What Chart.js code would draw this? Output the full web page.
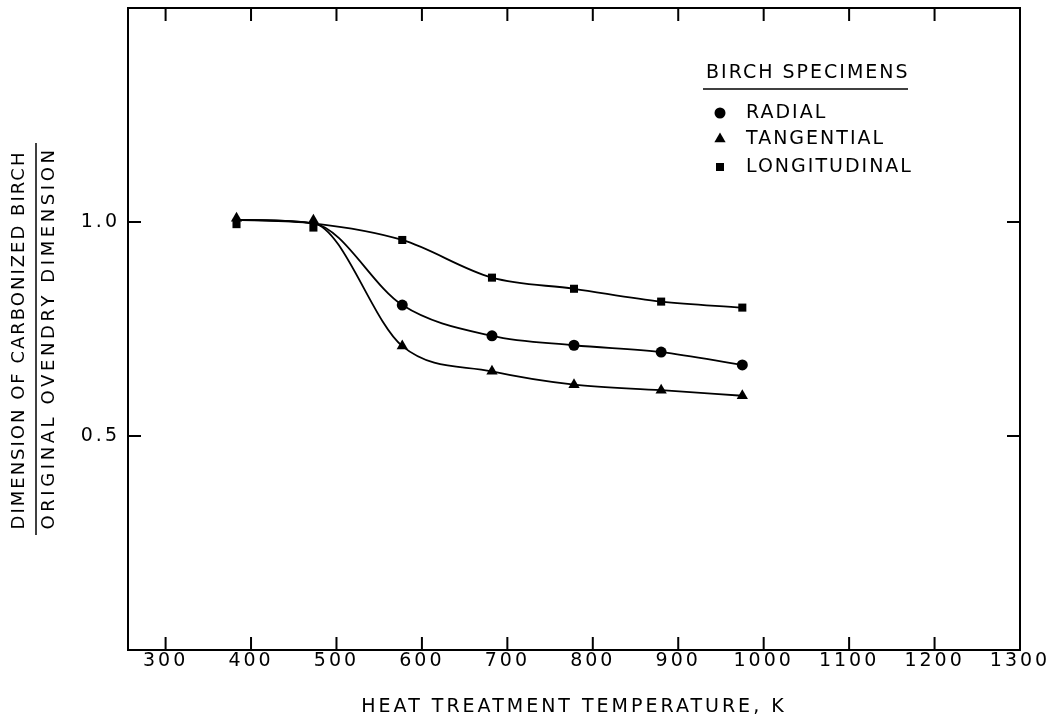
<!DOCTYPE html>
<html>
<head>
<meta charset="utf-8">
<script src="https://cdn.jsdelivr.net/npm/chart.js@4.4.1/dist/chart.umd.min.js"></script>
<style>
  html, body { margin: 0; padding: 0; background: #fff; }
</style>
</head>
<body>
<canvas id="chart" width="1051" height="720"></canvas>
<script>
// Heat treatment temperatures (K)
const temps = [383, 473, 577, 682, 778, 880, 975];

// Carbonized / ovendry dimension for each specimen direction
const radial = [null, null, 0.806, 0.734, 0.712, 0.696, 0.666];
const tangential = [1.009, 1.004, 0.710, 0.651, 0.620, 0.607, 0.594];
const longitudinal = [0.995, 0.987, 0.958, 0.870, 0.844, 0.814, 0.800];

// the three faired curves run as one line up to 473 K
const commonStart = [1.005, 0.997];

const seriesNames = ['RADIAL', 'TANGENTIAL', 'LONGITUDINAL'];
const legendTitle = 'BIRCH SPECIMENS';
const xTicks = [300, 400, 500, 600, 700, 800, 900, 1000, 1100, 1200, 1300];
const yTicks = [0.5, 1.0];
const xTitle = 'HEAT TREATMENT TEMPERATURE, K';
const yTitleTop = 'DIMENSION OF CARBONIZED BIRCH';
const yTitleBottom = 'ORIGINAL OVENDRY DIMENSION';

const INK = '#000';
const FONT = "'DejaVu Sans', sans-serif";
const STYLES = [
    { pointStyle: 'circle', radius: 5.5 },
    { pointStyle: 'triangle', radius: 6.5 },
    { pointStyle: 'rect', radius: 5.7 }
];

function curvePoints(values) {
    return temps.map((t, i) => ({ x: t, y: i < 2 ? commonStart[i] : values[i] }));
}

function markerPoints(values) {
    return temps
        .map((t, i) => ({ x: t, y: values[i] }))
        .filter(p => p.y !== null);
}

const allSeries = [radial, tangential, longitudinal];

const datasets = [];
allSeries.forEach(values => {
    datasets.push({
        data: curvePoints(values),
        showLine: true,
        borderColor: INK,
        borderWidth: 1.8,
        pointRadius: 0,
        cubicInterpolationMode: 'monotone'
    });
});
allSeries.forEach((values, i) => {
    datasets.push({
        label: seriesNames[i],
        data: markerPoints(values),
        showLine: false,
        pointStyle: STYLES[i].pointStyle,
        pointRadius: STYLES[i].radius,
        backgroundColor: INK,
        borderColor: INK,
        borderWidth: 0
    });
});

// simple marker drawing for the legend
function drawMarker(ctx, style, r, x, y) {
    ctx.beginPath();
    if (style === 'circle') {
        ctx.arc(x, y, r, 0, Math.PI * 2);
    } else if (style === 'triangle') {
        ctx.moveTo(x, y - r);
        ctx.lineTo(x + r * Math.sin(Math.PI / 3), y + r / 2);
        ctx.lineTo(x - r * Math.sin(Math.PI / 3), y + r / 2);
        ctx.closePath();
    } else {
        const s = r * Math.SQRT1_2;
        ctx.rect(x - s, y - s, 2 * s, 2 * s);
    }
    ctx.fill();
}

function rotatedText(ctx, text, x, y) {
    ctx.save();
    ctx.translate(x, y);
    ctx.rotate(-Math.PI / 2);
    ctx.fillText(text, 0, 0);
    ctx.restore();
}

const decorations = {
    id: 'decorations',
    beforeDraw(chart) {
        chart.ctx.letterSpacing = '3px';
    },
    afterDraw(chart) {
        const ctx = chart.ctx;
        const area = chart.chartArea;
        const xs = chart.scales.x;
        const ys = chart.scales.y;
        const tick = 13;

        ctx.save();
        ctx.strokeStyle = INK;
        ctx.fillStyle = INK;
        ctx.lineWidth = 2;
        ctx.strokeRect(area.left, area.top, area.right - area.left, area.bottom - area.top);

        // inward ticks on all four sides
        ctx.beginPath();
        xTicks.forEach(v => {
            const px = xs.getPixelForValue(v);
            if (px >= area.right - 1) return;
            ctx.moveTo(px, area.bottom);
            ctx.lineTo(px, area.bottom - tick);
            ctx.moveTo(px, area.top);
            ctx.lineTo(px, area.top + tick);
        });
        yTicks.forEach(v => {
            const py = ys.getPixelForValue(v);
            ctx.moveTo(area.left, py);
            ctx.lineTo(area.left + tick, py);
            ctx.moveTo(area.right, py);
            ctx.lineTo(area.right - tick, py);
        });
        ctx.stroke();

        // y title as a fraction
        ctx.font = '18px ' + FONT;
        ctx.textAlign = 'center';
        ctx.textBaseline = 'middle';
        ctx.letterSpacing = '2px';
        rotatedText(ctx, yTitleTop, 19, 340);
        ctx.letterSpacing = '3.6px';
        rotatedText(ctx, yTitleBottom, 49, 338);
        ctx.lineWidth = 1.5;
        ctx.beginPath();
        ctx.moveTo(36, 143);
        ctx.lineTo(36, 535);
        ctx.stroke();

        // legend
        ctx.letterSpacing = '2px';
        ctx.font = '19px ' + FONT;
        ctx.textAlign = 'left';
        ctx.fillText(legendTitle, 706, 73);
        ctx.beginPath();
        ctx.moveTo(703, 89);
        ctx.lineTo(908, 89);
        ctx.stroke();
        const rowY = [113, 139, 167];
        seriesNames.forEach((name, i) => {
            drawMarker(ctx, STYLES[i].pointStyle, STYLES[i].radius, 720, rowY[i]);
            ctx.fillText(name, 746, rowY[i]);
        });
        ctx.restore();
    }
};

new Chart(document.getElementById('chart'), {
    type: 'scatter',
    data: { datasets },
    options: {
        responsive: false,
        animation: false,
        devicePixelRatio: 1,
        layout: { padding: { top: 8, right: 31, bottom: 0, left: 0 } },
        plugins: {
            legend: { display: false },
            tooltip: { enabled: false }
        },
        scales: {
            x: {
                type: 'linear',
                min: 256,
                max: 1300,
                afterBuildTicks: scale => { scale.ticks = xTicks.map(v => ({ value: v })); },
                afterFit: scale => {
                    scale.height = 70;
                    scale.paddingLeft = 0;
                    scale.paddingRight = 0;
                },
                grid: { display: false, drawTicks: false },
                border: { display: false },
                ticks: {
                    color: INK,
                    padding: 0,
                    maxRotation: 0,
                    autoSkip: false,
                    font: { family: FONT, size: 19 },
                    callback: v => String(v)
                },
                title: {
                    display: true,
                    text: xTitle,
                    color: INK,
                    padding: { top: 0, bottom: 2 },
                    font: { family: FONT, size: 19 }
                }
            },
            y: {
                type: 'linear',
                min: 0,
                max: 1.5,
                afterBuildTicks: scale => { scale.ticks = yTicks.map(v => ({ value: v })); },
                afterFit: scale => {
                    scale.width = 128;
                    scale.paddingTop = 0;
                    scale.paddingBottom = 0;
                },
                grid: { display: false, drawTicks: false },
                border: { display: false },
                ticks: {
                    color: INK,
                    padding: 8,
                    font: { family: FONT, size: 19 },
                    callback: v => v.toFixed(1)
                }
            }
        }
    },
    plugins: [decorations]
});
</script>
</body>
</html>
